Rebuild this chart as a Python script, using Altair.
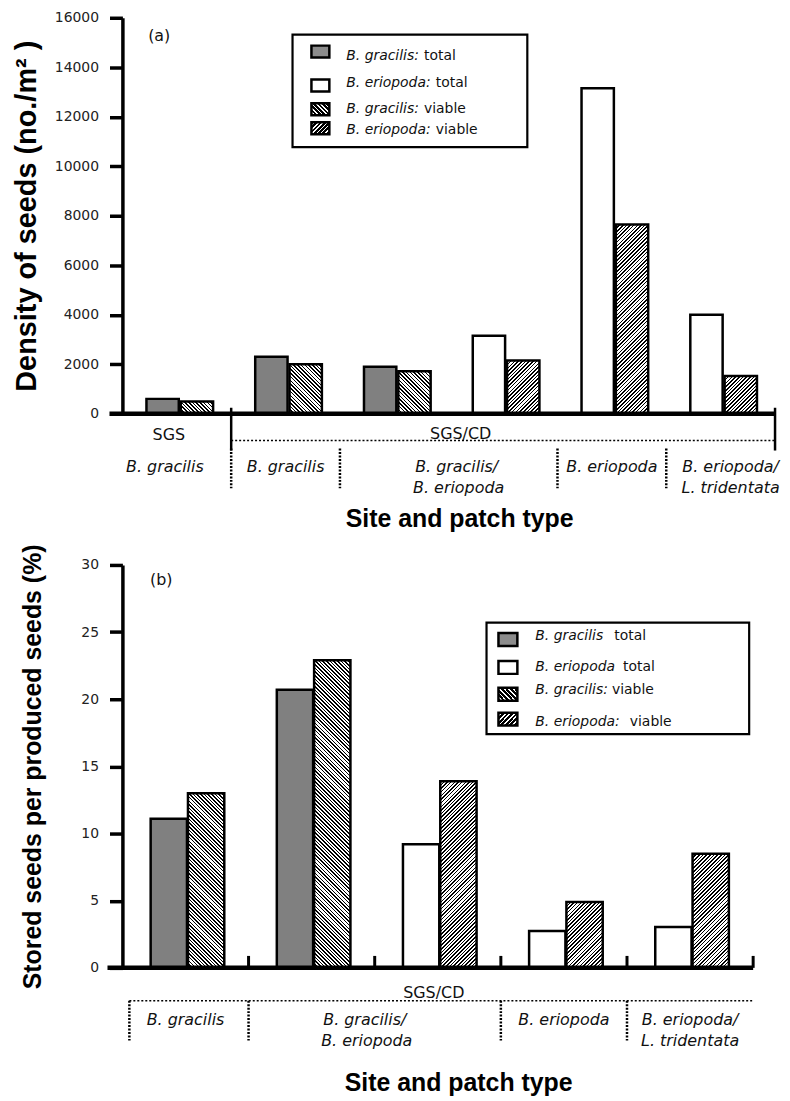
import math
import altair as alt

# ---------------- values ----------------
groups_a = ["SGS | B. gracilis", "SGS/CD | B. gracilis", "SGS/CD | B. gracilis/B. eriopoda (Bg)",
            "SGS/CD | B. gracilis/B. eriopoda (Be)", "SGS/CD | B. eriopoda",
            "SGS/CD | B. eriopoda/L. tridentata"]
species_a = ["gracilis", "gracilis", "gracilis", "eriopoda", "eriopoda", "eriopoda"]
total_a = [600, 2300, 1900, 3150, 13150, 4000]
viable_a = [490, 2000, 1720, 2150, 7650, 1520]
yticks_a = [0, 2000, 4000, 6000, 8000, 10000, 12000, 14000, 16000]

groups_b = ["B. gracilis (Bg)", "B. gracilis/B. eriopoda (Bg)", "B. gracilis/B. eriopoda (Be)",
            "B. eriopoda (Be)", "B. eriopoda/L. tridentata (Be)"]
species_b = ["gracilis", "gracilis", "eriopoda", "eriopoda", "eriopoda"]
total_b = [11.1, 20.7, 9.2, 2.75, 3.05]
viable_b = [13.0, 22.9, 13.9, 4.9, 8.5]
yticks_b = [0, 5, 10, 15, 20, 25, 30]

legend_a = [("B. gracilis:", "total"), ("B. eriopoda:", "total"),
            ("B. gracilis:", "viable"), ("B. eriopoda:", "viable")]
legend_b = [("B. gracilis", "total"), ("B. eriopoda", "total"),
            ("B. gracilis:", "viable"), ("B. eriopoda:", "viable")]

# ---------------- layout / style ----------------
FONT = "DejaVu Sans"
BOLD = "Liberation Sans"
W_A, H_A = 656, 398
W_B, H_B = 634, 405
SPACING = 152
GRAY = "#808080"

CW = {"B": 0.686, ".": 0.318, " ": 0.318, "g": 0.635, "r": 0.411, "a": 0.613, "c": 0.550,
      "i": 0.278, "l": 0.278, "s": 0.521, ":": 0.337, "e": 0.615, "o": 0.612, "p": 0.635,
      "d": 0.635}


def text_width(s, size):
    return sum(CW.get(c, 0.6) for c in s) * size


def hatch(w, h, direction, period=2.6, dark_frac=0.42, dark="#000000", light="#ffffff"):
    w = max(w, 1.0)
    h = max(h, 1.0)
    k = (w + h) / (w * w + h * h)
    n = max(1, int(round((w + h) / math.sqrt(2) / period)))
    stops = []
    for i in range(n):
        a, b, c = i / n, (i + dark_frac) / n, (i + 1) / n
        stops += [{"offset": round(a, 5), "color": dark}, {"offset": round(b, 5), "color": dark},
                  {"offset": round(b, 5), "color": light}, {"offset": round(c, 5), "color": light}]
    if direction == "/":
        x1, y1, x2, y2 = 0, 0, k * w, k * h
    else:
        x1, y1, x2, y2 = 0, 1, k * w, 1 - k * h
    return {"gradient": "linear", "x1": x1, "y1": y1, "x2": round(x2, 6),
            "y2": round(y2, 6), "stops": stops}


def xenc(groups, bp=None):
    kw = {}
    if bp is not None:
        kw["bandPosition"] = bp
    return alt.X("g:N", scale=alt.Scale(domain=groups, paddingInner=0, paddingOuter=0),
                 axis=None, **kw)


def one(v="x"):
    return alt.Data(values=[{"t": v}])


def bars(groups, species, total, viable, ymax, H, bw, gap, shift, yaxis):
    rec_t, rec_v = [], []
    for g, sp, t, v in zip(groups, species, total, viable):
        rec_t.append({"g": g, "v": t, "fill": GRAY if sp == "gracilis" else "#ffffff"})
        rec_v.append({"g": g, "v": v,
                      "fill": hatch(bw, v / ymax * H, "\\" if sp == "gracilis" else "/")})
    out = []
    for recs, sign in ((rec_t, -1), (rec_v, 1)):
        out.append(alt.Chart(alt.Data(values=recs)).mark_bar(
            stroke="black", strokeWidth=2.5, strokeJoin="miter", width=bw,
            xOffset=sign * (bw + gap) / 2 + shift
        ).encode(
            x=xenc(groups),
            y=alt.Y("v:Q", stack=None, scale=alt.Scale(domain=[0, ymax], nice=False),
                    axis=yaxis),
            fill=alt.Fill("fill:N", scale=None),
        ))
    return out


def yaxis(values, title, tsize, tx, H):
    return alt.Axis(values=values, format="d", title=title, titleFont=BOLD,
                    titleFontSize=tsize, titleFontWeight="bold", titleColor="#000",
                    titleX=tx, titleY=H / 2, labelFont=FONT, labelFontSize=14,
                    labelColor="#222", labelPadding=11, tickSize=13, tickWidth=3.5,
                    tickColor="#000", domainWidth=3.5, domainColor="#000", grid=False)


def legend(box, sw_x, sw_w, sw_h, sw_rows, tx, text_rows, items, gaps, fills):
    layers = [alt.Chart(one()).mark_rect(fill="white", stroke="black", strokeWidth=2.2).encode(
        x=alt.value(box[0]), x2=alt.value(box[2]), y=alt.value(box[1]), y2=alt.value(box[3]))]
    for (ital, reg), sy, ty, gap, f in zip(items, sw_rows, text_rows, gaps, fills):
        layers.append(alt.Chart(one()).mark_rect(fill=f, stroke="black", strokeWidth=2.5).encode(
            x=alt.value(sw_x), x2=alt.value(sw_x + sw_w),
            y=alt.value(sy - sw_h / 2), y2=alt.value(sy + sw_h / 2)))
        layers.append(alt.Chart(one(ital)).mark_text(
            font=FONT, fontSize=14, fontStyle="italic", align="left", baseline="middle",
            color="#111").encode(x=alt.value(tx), y=alt.value(ty), text="t:N"))
        layers.append(alt.Chart(one(reg)).mark_text(
            font=FONT, fontSize=14, align="left", baseline="middle", color="#111").encode(
            x=alt.value(tx + text_width(ital, 14) + gap), y=alt.value(ty), text="t:N"))
    return layers


def labels(groups, items, y, bp, italic=True, dx=0):
    recs = [{"g": g, "t": t} for t, g in items]
    kw = {"fontStyle": "italic"} if italic else {}
    return alt.Chart(alt.Data(values=recs)).mark_text(
        font=FONT, fontSize=16, align="center", baseline="middle", color="#111", dx=dx, **kw
    ).encode(x=xenc(groups, bp), y=alt.value(y), text="t:N")


def vrules(groups, sel, y1, y2, dash=None, width=2.5):
    recs = [{"g": g} for g in sel]
    kw = {"strokeDash": dash} if dash else {}
    return alt.Chart(alt.Data(values=recs)).mark_rule(
        color="black", strokeWidth=width, **kw).encode(
        x=xenc(groups, 1), y=alt.value(y1), y2=alt.value(y2))


sw_hatch_g = hatch(18, 12, "\\", period=3.0, dark_frac=0.6)
sw_hatch_e = hatch(18, 12, "/", period=3.0, dark_frac=0.6)
sw_fills = ["#8c8c8c", "#ffffff", sw_hatch_g, sw_hatch_e]

# ---------------- panel (a) ----------------
ga = groups_a
ax_a = yaxis(yticks_a, "Density of seeds (no./m² )", 29, -81, H_A)
layers_a = bars(ga, species_a, total_a, viable_a, 16000, H_A, 32.5, 2, 3, ax_a) + [
    alt.Chart(one()).mark_rule(color="black", strokeWidth=4.5).encode(
        x=alt.value(-13), x2=alt.value(W_A), y=alt.value(H_A)),
    vrules(ga, [ga[0], ga[5]], H_A - 6, H_A + 37, width=2.5),
    vrules(ga, [ga[0], ga[1], ga[3], ga[4]], H_A + 35, H_A + 75, dash=[2, 1.5], width=2.5),
    alt.Chart(alt.Data(values=[{"g": ga[0]}])).mark_rule(
        color="black", strokeWidth=1.5, strokeDash=[2, 2]).encode(
        x=xenc(ga, 1), x2=alt.value(W_A), y=alt.value(H_A + 27)),
    labels(ga, [("SGS", ga[0])], H_A + 21, 0.5, italic=False, dx=-8),
    labels(ga, [("SGS/CD", ga[2])], H_A + 20, 1, italic=False, dx=12),
    labels(ga, [("B. gracilis", ga[0])], H_A + 54, 0.5, dx=-12),
    labels(ga, [("B. gracilis", ga[1]), ("B. eriopoda", ga[4])], H_A + 54, 0.5),
    labels(ga, [("B. eriopoda/", ga[5])], H_A + 54, 0.5, dx=10),
    labels(ga, [("L. tridentata", ga[5])], H_A + 75, 0.5, dx=10),
    labels(ga, [("B. gracilis/", ga[2])], H_A + 54, 1, dx=8),
    labels(ga, [("B. eriopoda", ga[2])], H_A + 75, 1, dx=10),
    alt.Chart(one("Site and patch type")).mark_text(
        font=BOLD, fontSize=25, fontWeight="bold", color="#000", align="center",
        baseline="middle").encode(x=alt.value(339), y=alt.value(H_A + 106), text="t:N"),
    alt.Chart(one("(a)")).mark_text(font=FONT, fontSize=16, color="#111", align="center",
                                    baseline="middle").encode(
        x=alt.value(37), y=alt.value(18), text="t:N"),
]
layers_a += legend((171, 17, 407, 130), 190, 18, 12, [34, 68, 92, 111], 225,
                   [38, 66, 92, 113], legend_a, [5, 5, 5, 5], sw_fills)
panel_a = alt.layer(*layers_a).properties(width=W_A, height=H_A)

# ---------------- panel (b) ----------------
gb = groups_b
ax_b = yaxis(yticks_b, "Stored seeds per produced seeds (%)", 25, -77, H_B)
layers_b = bars(gb, species_b, total_b, viable_b, 30, H_B, 36.5, 1, 2, ax_b) + [
    alt.Chart(one()).mark_rule(color="black", strokeWidth=4.5).encode(
        x=alt.value(-15), x2=alt.value(W_B), y=alt.value(H_B)),
    vrules(gb, gb, H_B - 12, H_B, width=3),
    vrules(gb, [gb[0], gb[2], gb[3]], H_B + 33, H_B + 73, dash=[2, 1.5], width=2.5),
    alt.Chart(one()).mark_rule(color="black", strokeWidth=2.5, strokeDash=[2, 1.5]).encode(
        x=alt.value(7), y=alt.value(H_B + 33), y2=alt.value(H_B + 73)),
    alt.Chart(one()).mark_rule(color="black", strokeWidth=1.5, strokeDash=[2, 2]).encode(
        x=alt.value(7), x2=alt.value(W_B), y=alt.value(H_B + 33)),
    labels(gb, [("SGS/CD", gb[2])], H_B + 25, 0.5, italic=False, dx=-4),
    labels(gb, [("B. gracilis", gb[0]), ("B. eriopoda", gb[3]),
                ("B. eriopoda/", gb[4])], H_B + 52, 0.5),
    labels(gb, [("L. tridentata", gb[4])], H_B + 74, 0.5),
    labels(gb, [("B. gracilis/", gb[1])], H_B + 52, 1, dx=-10),
    labels(gb, [("B. eriopoda", gb[1])], H_B + 74, 1, dx=-8),
    alt.Chart(one("Site and patch type")).mark_text(
        font=BOLD, fontSize=25, fontWeight="bold", color="#000", align="center",
        baseline="middle").encode(x=alt.value(338), y=alt.value(H_B + 116), text="t:N"),
    alt.Chart(one("(b)")).mark_text(font=FONT, fontSize=16, color="#111", align="center",
                                    baseline="middle").encode(
        x=alt.value(39), y=alt.value(15), text="t:N"),
]
layers_b += legend((366, 58, 630, 170), 378, 19, 13, [75, 103, 130, 155], 415,
                   [71, 103, 126, 158], legend_b, [11, 8, 4, 10], sw_fills)
panel_b = alt.layer(*layers_b).properties(width=W_B, height=H_B)

chart = alt.vconcat(panel_a, panel_b, spacing=SPACING, bounds="flush").properties(
    padding={"left": 4, "top": 0, "right": 2, "bottom": 0}, background="white"
).configure_view(stroke=None)

chart.save("out.html", embed_options={"renderer": "svg", "actions": False})
